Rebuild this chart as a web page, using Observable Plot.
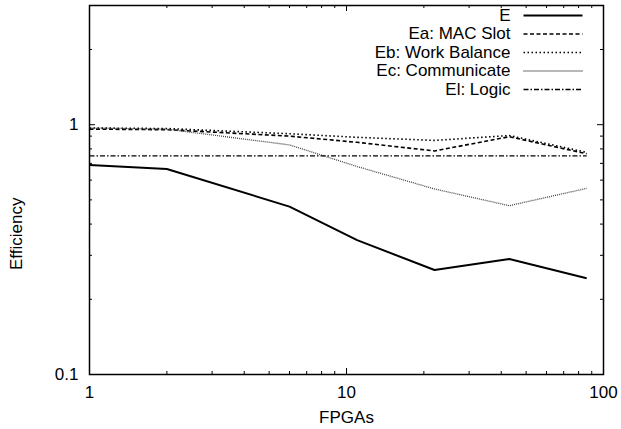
<!DOCTYPE html>
<html><head><meta charset="utf-8">
<script src="https://cdn.jsdelivr.net/npm/d3@7"></script>
<script src="https://cdn.jsdelivr.net/npm/@observablehq/plot@0.6"></script>
<style>html,body{margin:0;padding:0;background:#fff}</style>
</head><body><div id="chart"></div>
<script>
// ---- data ----
const fpgas = [1, 2, 6, 11, 22, 43, 86];
const effE  = [0.69, 0.665, 0.47, 0.345, 0.262, 0.29, 0.243];
const effEa = [0.96, 0.955, 0.90, 0.85, 0.785, 0.895, 0.765];
const effEb = [0.97, 0.965, 0.92, 0.89, 0.865, 0.905, 0.775];
const effEc = [0.97, 0.96, 0.83, 0.68, 0.553, 0.474, 0.556];
const effEl = [0.75, 0.75, 0.75, 0.75, 0.75, 0.75, 0.75];
const seriesNames = ["E", "Ea: MAC Slot", "Eb: Work Balance", "Ec: Communicate", "El: Logic"];
const seriesValues = [effE, effEa, effEb, effEc, effEl];
const xMajorTicks = [1, 10, 100];
const xMinorTicks = [2,3,4,5,6,7,8,9,20,30,40,50,60,70,80,90];
const yMajorTicks = [0.1, 1];
const yMinorTicks = [0.2,0.3,0.4,0.5,0.6,0.7,0.8,0.9,2];

// ---- styles ----
const styles = [
  {stroke: "#000", strokeWidth: 2, strokeDasharray: null},
  {stroke: "#000", strokeWidth: 1.6, strokeDasharray: "4,2.5"},
  {stroke: "#000", strokeWidth: 1.6, strokeDasharray: "1.5,2.5"},
  {stroke: "#444", strokeWidth: 1.3, strokeDasharray: "1,1"},
  {stroke: "#000", strokeWidth: 1.4, strokeDasharray: "5,2,1.5,2"}
];

const FS = 17;
const W = 621, H = 429, mL = 89, mR = 18, mT = 5, mB = 55;
const pw = W - mL - mR, ph = H - mT - mB;
const majorLen = 6, minorLen = 3;

const tickShape = {draw(ctx, l) { ctx.moveTo(0, 0); ctx.lineTo(0, -l); }};

const marks = [];
seriesValues.forEach((vals, i) => {
  const rows = fpgas.map((x, j) => ({x, y: vals[j]}));
  marks.push(Plot.line(rows, {x: "x", y: "y", ...styles[i], strokeLinecap: "butt", strokeLinejoin: "miter"}));
});
const tk = {stroke: "#000", strokeWidth: 1};
marks.push(
  Plot.tickX(xMajorTicks, {x: d => d, insetTop: ph - majorLen, ...tk}),
  Plot.tickX(xMajorTicks, {x: d => d, insetBottom: ph - majorLen, ...tk}),
  Plot.tickX(xMinorTicks, {x: d => d, insetTop: ph - minorLen, ...tk}),
  Plot.tickX(xMinorTicks, {x: d => d, insetBottom: ph - minorLen, ...tk}),
  Plot.tickY(yMajorTicks, {y: d => d, insetRight: pw - majorLen, ...tk}),
  Plot.tickY(yMajorTicks, {y: d => d, insetLeft: pw - majorLen, ...tk}),
  Plot.tickY(yMinorTicks, {y: d => d, insetRight: pw - minorLen, ...tk}),
  Plot.tickY(yMinorTicks, {y: d => d, insetLeft: pw - minorLen, ...tk}),
  Plot.axisX({ticks: xMajorTicks, tickSize: 0, tickPadding: 11, tickFormat: d => String(d), label: null, fontSize: FS}),
  Plot.axisY({ticks: yMajorTicks, tickSize: 0, tickPadding: 11, tickFormat: d => String(d), label: null, fontSize: FS}),
  Plot.frame({stroke: "#000", strokeWidth: 1.5}),
  Plot.text(["FPGAs"], {frameAnchor: "bottom", dy: 43, text: d => d, lineAnchor: "middle", fontSize: FS}),
  Plot.text(["Efficiency"], {frameAnchor: "left", dx: -73, dy: 80, rotate: -90, text: d => d, lineAnchor: "middle", fontSize: FS})
);
seriesNames.forEach((name, i) => {
  const dy = 10 + i * 18.5;
  marks.push(Plot.text([name], {frameAnchor: "top-right", dx: -93, dy, text: d => d, textAnchor: "end", lineAnchor: "middle", fontSize: FS}));
  marks.push(Plot.vector([name], {frameAnchor: "top-right", dx: -80, dy, rotate: 90, length: 59, anchor: "start", shape: tickShape, ...styles[i], strokeLinecap: "butt"}));
});

const chart = Plot.plot({
  width: W, height: H,
  marginLeft: mL, marginRight: mR, marginTop: mT, marginBottom: mB,
  style: {fontFamily: "'Liberation Sans', Arial, sans-serif", fontSize: FS + "px", background: "#fff", color: "#000"},
  x: {type: "log", domain: [1, 100]},
  y: {type: "log", domain: [0.1, 3]},
  marks
});
document.getElementById("chart").appendChild(chart);
</script>
</body></html>
